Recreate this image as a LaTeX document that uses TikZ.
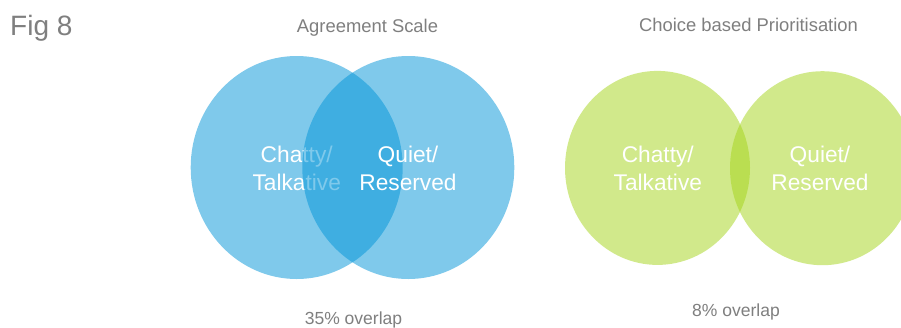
\documentclass[tikz,border=0pt]{standalone}
\usepackage{fontspec}
\setmainfont{Liberation Sans}
\usetikzlibrary{shapes.geometric}
\definecolor{vennblue}{RGB}{0,149,217}
\definecolor{venngreen}{RGB}{165,213,25}
\definecolor{labelgray}{RGB}{127,127,127}
\begin{document}
\begin{tikzpicture}[x=1pt,y=-1pt,
  bluecirc/.style={ellipse, draw=none, fill=vennblue, fill opacity=0.5, inner sep=0pt,
    minimum width=212pt, minimum height=223pt},
  greencirc/.style={ellipse, draw=none, fill=venngreen, fill opacity=0.5, inner sep=0pt,
    minimum width=185pt, minimum height=194pt},
  circtext/.style={text=white, align=center, anchor=base, inner sep=0pt,
    font=\fontsize{22.7}{27.5}\selectfont},
  title/.style={text=labelgray, anchor=base, inner sep=0pt, font=\fontsize{18.4}{22}\selectfont},
  caption/.style={text=labelgray, anchor=base, inner sep=0pt, font=\fontsize{17.5}{21}\selectfont}]
\useasboundingbox (0,0) rectangle (901,327);
\clip (0,0) rectangle (901,327);
\fill[white] (0,0) rectangle (901,327);

\node[text=labelgray, anchor=base west, inner sep=0pt, font=\fontsize{28}{33}\selectfont] (fig) at (10,35) {Fig 8};
\node[title] (titleA) at (367.5,32) {Agreement Scale};
\node[title] (titleB) at (748.5,31) {Choice based Prioritisation};

% Agreement scale
\node[bluecirc] (bL) at (296.7,167.5) {};
\node[circtext] (tbL) at (296.7,190) {Chatty/\\Talkative};
\node[bluecirc] (bR) at (408.3,167.5) {};
\node[circtext] (tbR) at (408,190) {Quiet/\\Reserved};
\node[caption] (capA) at (353.5,324.3) {35\% overlap};

% Choice based
\node[greencirc] (gL) at (657.5,167.9) {};
\node[circtext] (tgL) at (657.8,190) {Chatty/\\Talkative};
\node[greencirc] (gR) at (822.5,168.2) {};
\node[circtext] (tgR) at (820,190) {Quiet/\\Reserved};
\node[caption] (capB) at (736,316.7) {8\% overlap};
\end{tikzpicture}
\end{document}
